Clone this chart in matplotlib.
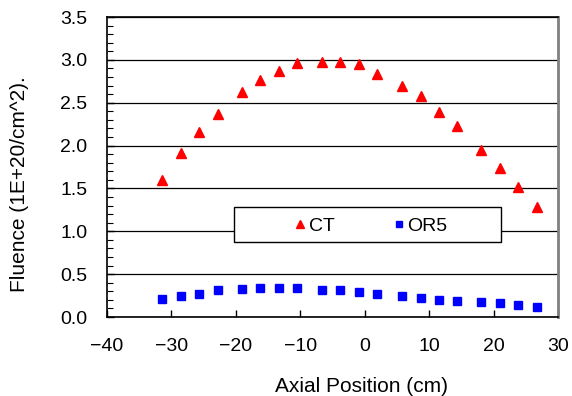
import numpy as np
import matplotlib
matplotlib.use("Agg")
import matplotlib.pyplot as plt
from matplotlib.ticker import MultipleLocator, FormatStrFormatter
from matplotlib.patches import Rectangle

# --- data ---
pos = [-31.4, -28.5, -25.7, -22.8, -19.0, -16.2, -13.3, -10.5, -6.6, -3.8,
       -0.9, 1.9, 5.8, 8.7, 11.5, 14.4, 18.1, 21.0, 23.8, 26.8]
ct = [1.60, 1.91, 2.16, 2.37, 2.62, 2.76, 2.87, 2.96, 2.98, 2.98,
      2.95, 2.84, 2.70, 2.58, 2.39, 2.23, 1.95, 1.74, 1.52, 1.28]
or5 = [0.21, 0.25, 0.27, 0.31, 0.33, 0.34, 0.34, 0.34, 0.32, 0.31,
       0.29, 0.27, 0.24, 0.22, 0.20, 0.19, 0.17, 0.16, 0.14, 0.12]

plt.rcParams['font.family'] = ['Liberation Sans', 'DejaVu Sans']
plt.rcParams['font.size'] = 14

fig = plt.figure(figsize=(5.72, 3.96), dpi=100)
ax = fig.add_axes([107/572, 1 - 317/396, 451/572, 300/396])

ax.plot(pos, ct, linestyle='none', marker='^', ms=6.5, color='#ff0000', label='CT', zorder=3)
ax.plot(pos, or5, linestyle='none', marker='s', ms=6, color='#0000ff', label='OR5', zorder=3)

ax.set_xlim(-40, 30)
ax.set_ylim(0, 3.5)
ax.xaxis.set_major_locator(MultipleLocator(10))
ax.yaxis.set_major_locator(MultipleLocator(0.5))
ax.yaxis.set_minor_locator(MultipleLocator(0.1))
ax.yaxis.set_major_formatter(FormatStrFormatter('%.1f'))
ax.tick_params(direction='in', length=5, width=1)
ax.tick_params(axis='y', pad=14)
ax.tick_params(axis='x', pad=15)
ax.tick_params(axis='y', which='minor', direction='in', length=4, width=0.8)
ax.grid(axis='y', color='black', linewidth=0.9)
ax.set_axisbelow(True)

for s in ['left', 'bottom', 'top']:
    ax.spines[s].set_color('black')
    ax.spines[s].set_linewidth(1.2)
ax.spines['right'].set_color('#808080')
ax.spines['right'].set_linewidth(2)

ax.set_xlabel('Axial Position (cm)', fontsize=15)
ax.xaxis.set_label_coords(0.565, -0.2)
ax.set_ylabel('Fluence (1E+20/cm^2).', fontsize=15, va='center')
ax.yaxis.set_label_coords(-0.195, 0.443)

# legend box (white, black edge) with entries laid on top
ax.add_patch(Rectangle((0.282, 0.249), 0.592, 0.119, transform=ax.transAxes,
                       facecolor='white', edgecolor='black', linewidth=1, zorder=4))
leg = ax.legend(loc='center left', bbox_to_anchor=(0.415, 0.304), ncol=2,
                frameon=False, handlelength=0.6, handletextpad=0.15,
                columnspacing=3.0, borderpad=0, borderaxespad=0, markerscale=0.8)
leg.set_zorder(5)

fig.savefig('out.png', dpi=100)
